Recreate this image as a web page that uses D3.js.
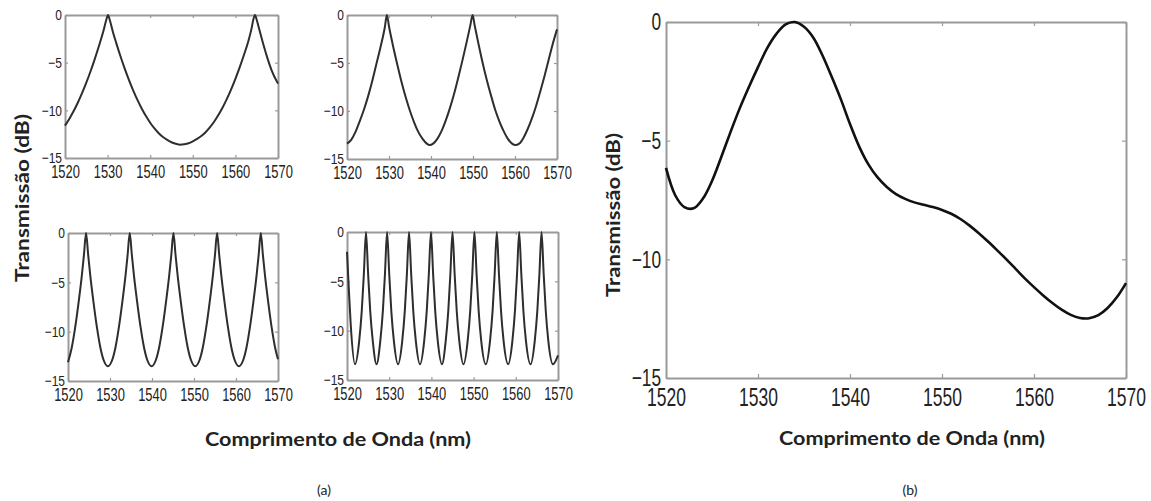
<!DOCTYPE html>
<html><head><meta charset="utf-8">
<script src="https://cdn.jsdelivr.net/npm/d3@7"></script>
<style>body{margin:0;background:#fff}svg{display:block}</style>
</head><body>
<svg id="chart" width="1151" height="501"></svg>
<script>
// ---- tick labels ----
const xTickValues = [1520, 1530, 1540, 1550, 1560, 1570];
const yTickValues = [0, -5, -10, -15];

// ---- series (wavelength nm, transmission dB) ----
const panelA = [[1520,-11.6],[1521,-10.9],[1522,-10.1],[1523,-9.2],[1524,-8.2],[1525,-7.1],[1526,-5.9],[1527,-4.6],[1528,-3.2],[1529,-1.7],[1529.7,-0.5],[1530.1,0],[1530.5,-0.5],[1531.2,-1.7],[1532,-2.9],[1533,-4.3],[1534,-5.6],[1535,-6.8],[1536,-7.9],[1537,-8.9],[1538,-9.8],[1539,-10.6],[1540,-11.3],[1541,-11.9],[1542,-12.4],[1543,-12.8],[1544,-13.1],[1545,-13.35],[1546,-13.5],[1547,-13.6],[1548,-13.55],[1549,-13.45],[1550,-13.25],[1551,-13.0],[1552,-12.7],[1553,-12.3],[1554,-11.8],[1555,-11.2],[1556,-10.5],[1557,-9.7],[1558,-8.8],[1559,-7.8],[1560,-6.7],[1561,-5.5],[1562,-4.2],[1563,-2.8],[1563.8,-1.4],[1564.2,-0.5],[1564.6,0],[1565,-0.5],[1565.6,-1.5],[1566.5,-3.0],[1567.5,-4.5],[1568.5,-5.8],[1570,-7.2]];

const panelB = [[1520,-13.4],[1521,-13.0],[1522,-12.2],[1523,-11.1],[1524,-9.9],[1525,-8.5],[1526,-6.9],[1527,-5.1],[1528,-3.3],[1529,-1.3],[1529.5,0],[1530,-1.2],[1531,-3.3],[1532,-5.2],[1533,-7.0],[1534,-8.6],[1535,-10.0],[1536,-11.2],[1537,-12.2],[1538,-12.9],[1539,-13.4],[1539.7,-13.55],[1540.5,-13.4],[1541.5,-12.9],[1542.5,-12.1],[1543.5,-11.0],[1544.5,-9.7],[1545.5,-8.2],[1546.5,-6.5],[1547.5,-4.7],[1548.5,-2.8],[1549.4,-1.0],[1549.9,0],[1550.4,-1.1],[1551.3,-3.0],[1552.3,-5.0],[1553.3,-6.8],[1554.3,-8.4],[1555.3,-9.9],[1556.3,-11.1],[1557.3,-12.1],[1558.3,-12.9],[1559.3,-13.4],[1560.1,-13.55],[1561,-13.4],[1562,-12.8],[1563,-11.9],[1564,-10.8],[1565,-9.5],[1566,-8.0],[1567,-6.4],[1568,-4.7],[1569,-3.0],[1570,-1.5]];

const panelC = [[1520,-13.1],[1520.9,-11.6],[1521.7,-9.6],[1522.5,-7.1],[1523.3,-4.3],[1523.8,-2.2],[1524.3,0],[1524.8,-2.2],[1525.3,-4.3],[1526.1,-7.1],[1526.9,-9.6],[1527.7,-11.6],[1528.5,-12.9],[1529.5,-13.5],
[1530.5,-12.9],[1531.3,-11.6],[1532.1,-9.6],[1532.9,-7.1],[1533.7,-4.3],[1534.2,-2.2],[1534.7,0],[1535.2,-2.2],[1535.7,-4.3],[1536.5,-7.1],[1537.3,-9.6],[1538.1,-11.6],[1538.9,-12.9],[1539.9,-13.5],
[1540.9,-12.9],[1541.7,-11.6],[1542.5,-9.6],[1543.3,-7.1],[1544.1,-4.3],[1544.6,-2.2],[1545.1,0],[1545.6,-2.2],[1546.1,-4.3],[1546.9,-7.1],[1547.7,-9.6],[1548.5,-11.6],[1549.3,-12.9],[1550.3,-13.5],
[1551.3,-12.9],[1552.1,-11.6],[1552.9,-9.6],[1553.7,-7.1],[1554.5,-4.3],[1555.0,-2.2],[1555.5,0],[1556.0,-2.2],[1556.5,-4.3],[1557.3,-7.1],[1558.1,-9.6],[1558.9,-11.6],[1559.7,-12.9],[1560.7,-13.5],
[1561.7,-12.9],[1562.5,-11.6],[1563.3,-9.6],[1564.1,-7.1],[1564.9,-4.3],[1565.4,-2.2],[1565.9,0],[1566.4,-2.2],[1566.9,-4.3],[1567.7,-7.1],[1568.5,-9.6],[1569.3,-11.6],[1570,-12.8]];

const panelD = [[1520,-2.0],[1520.4,-5.5],[1520.9,-9.5],[1521.9,-13.4],
[1522.9,-11.0],[1523.5,-8.0],[1524.0,-4.2],[1524.5,0],[1525.0,-4.2],[1525.5,-8.0],[1526.1,-11.0],[1527.0,-13.4],
[1527.9,-11.0],[1528.5,-8.0],[1529.0,-4.2],[1529.5,0],[1530.0,-4.2],[1530.5,-8.0],[1531.1,-11.0],[1532.1,-13.4],
[1533.1,-11.0],[1533.7,-8.0],[1534.2,-4.2],[1534.7,0],[1535.2,-4.2],[1535.7,-8.0],[1536.3,-11.0],[1537.3,-13.4],
[1538.3,-11.0],[1538.9,-8.0],[1539.4,-4.2],[1539.9,0],[1540.4,-4.2],[1540.9,-8.0],[1541.5,-11.0],[1542.5,-13.4],
[1543.4,-11.0],[1544.0,-8.0],[1544.5,-4.2],[1545.0,0],[1545.5,-4.2],[1546.0,-8.0],[1546.6,-11.0],[1547.6,-13.4],
[1548.6,-11.0],[1549.2,-8.0],[1549.7,-4.2],[1550.2,0],[1550.7,-4.2],[1551.2,-8.0],[1551.8,-11.0],[1552.9,-13.4],
[1553.9,-11.0],[1554.5,-8.0],[1555.0,-4.2],[1555.5,0],[1556.0,-4.2],[1556.5,-8.0],[1557.1,-11.0],[1558.2,-13.4],
[1559.2,-11.0],[1559.8,-8.0],[1560.3,-4.2],[1560.8,0],[1561.3,-4.2],[1561.8,-8.0],[1562.4,-11.0],[1563.5,-13.4],
[1564.5,-11.0],[1565.1,-8.0],[1565.6,-4.2],[1566.1,0],[1566.6,-4.2],[1567.1,-8.0],[1567.7,-11.0],[1568.8,-13.4],[1570,-12.5]];

const panelE = [[1520,-6.15],[1521,-7.3],[1522,-7.8],[1523,-7.85],[1524,-7.45],[1525,-6.7],[1526,-5.7],[1527,-4.65],[1528,-3.65],[1529,-2.75],[1530,-1.9],[1531,-1.1],[1532,-0.5],[1533,-0.1],[1534,0],[1535,-0.2],[1536,-0.65],[1537,-1.4],[1538,-2.3],[1539,-3.25],[1540,-4.3],[1541,-5.25],[1542,-6.0],[1543,-6.55],[1544,-6.95],[1545,-7.25],[1546,-7.45],[1547,-7.6],[1548,-7.7],[1549,-7.8],[1550,-7.92],[1551,-8.08],[1552,-8.3],[1553,-8.58],[1554,-8.9],[1555,-9.25],[1556,-9.62],[1557,-10.0],[1558,-10.4],[1559,-10.8],[1560,-11.17],[1561,-11.52],[1562,-11.84],[1563,-12.12],[1564,-12.34],[1565,-12.47],[1566,-12.48],[1567,-12.35],[1568,-12.05],[1569,-11.6],[1570,-11.0]];

const yTitle = "Transmissão (dB)";
const xTitle = "Comprimento de Onda (nm)";

const svg = d3.select("#chart");
const frameColor = "#9a9a9a";

function drawPanel(cfg) {
  const x = d3.scaleLinear().domain([1520, 1570]).range([cfg.left, cfg.right]);
  const y = d3.scaleLinear().domain([-15, 0]).range([cfg.bottom, cfg.top]);
  const g = svg.append("g");
  const tickFont = "'Liberation Sans', Arial, sans-serif";

  function styleAxis(sel) {
    sel.select(".domain").attr("stroke", frameColor).attr("stroke-width", 2);
    sel.selectAll(".tick line").attr("stroke", frameColor).attr("stroke-width", 1.2);
    sel.selectAll(".tick text").attr("fill", "#222").attr("font-family", tickFont);
  }

  const bottom = g.append("g").attr("transform", `translate(0,${cfg.bottom})`)
    .call(d3.axisBottom(x).tickValues(xTickValues).tickSize(-cfg.tick).tickSizeOuter(0).tickPadding(cfg.xPad).tickFormat(d3.format("d")));
  styleAxis(bottom);
  bottom.selectAll(".tick text").attr("font-size", cfg.xFont).attr("transform", `scale(${cfg.sx},1)`);

  const top = g.append("g").attr("transform", `translate(0,${cfg.top})`)
    .call(d3.axisTop(x).tickValues(xTickValues).tickSize(-cfg.tick).tickSizeOuter(0).tickFormat(""));
  styleAxis(top);

  const left = g.append("g").attr("transform", `translate(${cfg.left},0)`)
    .call(d3.axisLeft(y).tickValues(yTickValues).tickSize(-cfg.tick).tickSizeOuter(0).tickPadding(cfg.yPad).tickFormat(d3.format("d")));
  styleAxis(left);
  left.selectAll(".tick text").attr("font-size", cfg.yFont)
    .attr("x", -cfg.yPad / cfg.sy).attr("transform", `scale(${cfg.sy},1)`);

  const right = g.append("g").attr("transform", `translate(${cfg.right},0)`)
    .call(d3.axisRight(y).tickValues(yTickValues).tickSize(-cfg.tick).tickSizeOuter(0).tickFormat(""));
  styleAxis(right);

  const line = d3.line().x(d => x(d[0])).y(d => y(d[1])).curve(cfg.curve);
  g.append("path").datum(cfg.data).attr("d", line)
    .attr("fill", "none").attr("stroke", cfg.color).attr("stroke-width", cfg.width)
    .attr("stroke-linejoin", "round");
}

const small = {tick: 3, xPad: 7, yPad: 3, xFont: 19, yFont: 15, sx: 0.68, sy: 0.8, color: "#2e2e2e", width: 2, curve: d3.curveMonotoneX};
drawPanel(Object.assign({}, small, {data: panelA, left: 65, right: 278, top: 15, bottom: 158}));
drawPanel(Object.assign({}, small, {data: panelB, left: 347, right: 557, top: 15, bottom: 159}));
drawPanel(Object.assign({}, small, {data: panelC, left: 68, right: 278, top: 233, bottom: 381}));
drawPanel(Object.assign({}, small, {data: panelD, left: 347, right: 558, top: 232, bottom: 380}));
drawPanel({data: panelE, left: 666, right: 1126, top: 22, bottom: 378, tick: 4, xPad: 10, yPad: 5, xFont: 25, yFont: 24, sx: 0.7, sy: 0.72, color: "#111", width: 2.6, curve: d3.curveCatmullRom.alpha(0.5)});

const titleFont = "Lato, 'Open Sans', sans-serif";
function vTitle(x, y, len) {
  svg.append("text").attr("transform", `translate(${x},${y}) rotate(-90)`)
    .attr("text-anchor", "middle").attr("font-family", titleFont).attr("font-weight", "bold")
    .attr("font-size", 18).attr("fill", "#222").attr("textLength", len).attr("lengthAdjust", "spacingAndGlyphs")
    .text(yTitle);
}
function hTitle(x, y, len) {
  svg.append("text").attr("x", x).attr("y", y)
    .attr("text-anchor", "middle").attr("font-family", titleFont).attr("font-weight", "bold")
    .attr("font-size", 19).attr("fill", "#222").attr("textLength", len).attr("lengthAdjust", "spacingAndGlyphs")
    .text(xTitle);
}
vTitle(29, 198, 168);
vTitle(620, 215, 164);
hTitle(338, 446, 266);
hTitle(912, 445, 266);
svg.append("text").attr("x", 324).attr("y", 495).attr("text-anchor", "middle")
  .attr("font-family", titleFont).attr("font-size", 14).attr("fill", "#222").text("(a)");
svg.append("text").attr("x", 910).attr("y", 495).attr("text-anchor", "middle")
  .attr("font-family", titleFont).attr("font-size", 14).attr("fill", "#222").text("(b)");
</script>
</body></html>
